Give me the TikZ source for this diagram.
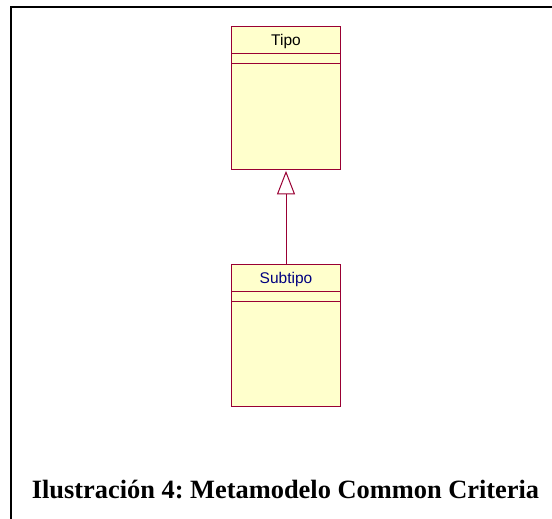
\documentclass[tikz,border=0pt]{standalone}
\usepackage{fontspec}
\setmainfont{Liberation Serif}
\newfontfamily\umlfont{Liberation Sans}
\usepackage{tikz}
\usetikzlibrary{calc, positioning, arrows, arrows.meta}
\definecolor{clsborder}{RGB}{153,0,51}
\definecolor{clsfill}{RGB}{255,255,204}
\definecolor{clsname}{RGB}{0,0,128}
\tikzstyle{cls}=[draw=clsborder, fill=clsfill, line width=1.2pt, shape=rectangle, inner sep=0pt, minimum width=108.5pt, minimum height=142.5pt]
\tikzstyle{clsname}=[inner sep=0pt, font=\umlfont\fontsize{15.5}{18}\selectfont]
\tikzstyle{gen}=[draw=clsborder, line width=1pt, -{Triangle[open, length=23.5pt, width=18pt, line width=1pt]}]
\tikzset{>=stealth}
\frenchspacing

\begin{document}
\begin{tikzpicture}[x=1pt, y=-1pt]
\useasboundingbox (0,0) rectangle (552,519);
\draw[line width=2pt] (11,519) -- (11,7) -- (552,7);

\node[cls] (Tipo) at (286,98) {};
\node[clsname] (TipoName) at (286,41) {Tipo};
\draw[clsborder, line width=1pt] ([yshift=-27pt]Tipo.north west) -- ([yshift=-27pt]Tipo.north east);
\draw[clsborder, line width=1pt] ([yshift=-37pt]Tipo.north west) -- ([yshift=-37pt]Tipo.north east);

\node[cls] (Subtipo) at (286,335.5) {};
\node[clsname, text=clsname] (SubtipoName) at (286,279) {Subtipo};
\draw[clsborder, line width=1pt] ([yshift=-28pt]Subtipo.north west) -- ([yshift=-28pt]Subtipo.north east);
\draw[clsborder, line width=1pt] ([yshift=-38pt]Subtipo.north west) -- ([yshift=-38pt]Subtipo.north east);

\draw[gen, shorten >=1pt] (Subtipo.north) -- (Tipo.south);

\node[font=\bfseries\fontsize{26.4}{30}\selectfont, inner sep=0pt, anchor=base] (Caption) at (285.5,498) {Ilustración 4: Metamodelo Common Criteria};
\end{tikzpicture}
\end{document}
